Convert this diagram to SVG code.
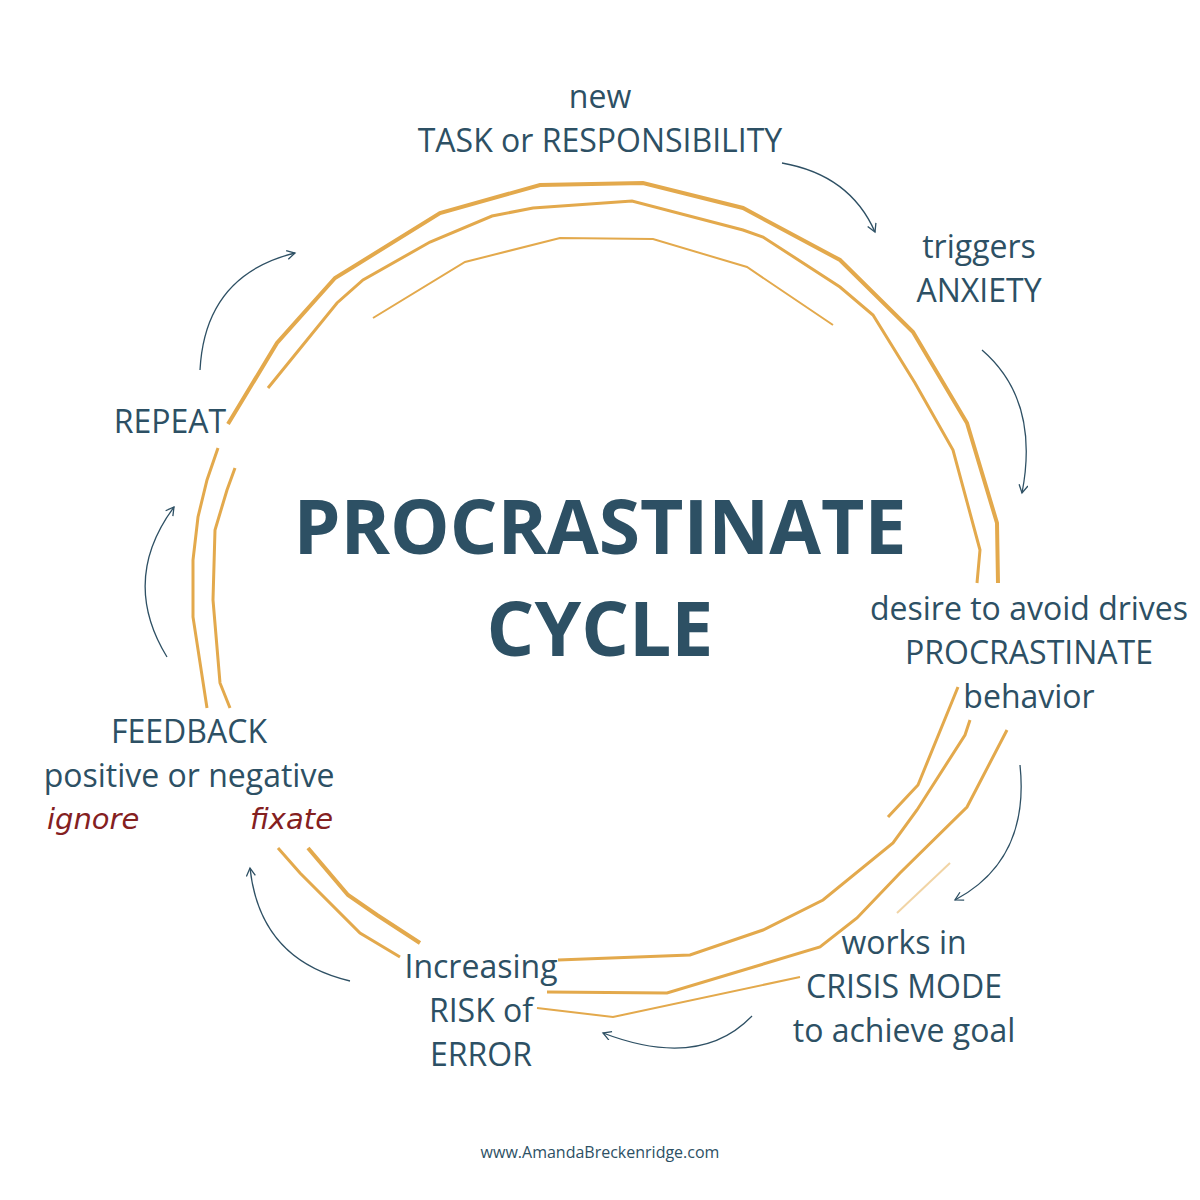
<svg xmlns="http://www.w3.org/2000/svg" width="1200" height="1200" viewBox="0 0 1200 1200">
<style>
.ring{fill:none;stroke:#E3A94C;stroke-linejoin:miter;stroke-linecap:butt}
.w4{stroke-width:4}
.w3{stroke-width:3}
.w2{stroke-width:2}
.arr{fill:none;stroke:#2E5064;stroke-width:1.3;marker-end:url(#ah)}
.lbl{font-family:"Open Sans","Liberation Sans",sans-serif;font-size:32px;fill:#2D5064;text-anchor:middle}
.ttl{font-family:"Open Sans","Liberation Sans",sans-serif;font-size:75px;font-weight:bold;fill:#2D5064;text-anchor:middle}
.hand{font-family:"DejaVu Sans","Liberation Sans",sans-serif;font-style:italic;font-size:29px;fill:#84201F}
.foot{font-family:"Open Sans","Liberation Sans",sans-serif;font-size:16px;fill:#2D5064;text-anchor:middle}
</style>
<defs>
<marker id="ah" markerUnits="userSpaceOnUse" markerWidth="14" markerHeight="14" refX="9" refY="5" orient="auto">
<path d="M1,0.5 L9,5 L1,9.5" fill="none" stroke="#2E5064" stroke-width="1.3"/>
</marker>
</defs>
<rect width="1200" height="1200" fill="#FFFFFF"/>
<g id="ring">
<polyline class="ring w4" points="228,424 277,343 335,278 353,267 440,213 540,185 643,183 743,208 840,260 913,332 967,423 997,523 998,583"/>
<polyline class="ring w3" points="268,388 337,303 363,280 430,242 492,216 533,208 632,201 743,230 763,237 840,287 873,315 915,383 953,450 980,550 977,583"/>
<polyline class="ring w2" points="373,318 465,262 560,238 653,239 747,267 833,325"/>
<polyline class="ring w3" points="218,448 207,480 198,517 193,560 193,617 207,708"/>
<polyline class="ring w3" points="235,468 227,490 215,530 213,600 220,683 230,708"/>
<polyline class="ring w3" points="278,848 300,873 360,933 400,957"/>
<polyline class="ring w4" points="308,848 348,895 377,915 420,943"/>
<polyline class="ring w3" points="558,960 690,955 763,930 823,900 893,843 917,810 965,735 970,720"/>
<polyline class="ring w3" points="547,992 667,993 820,947 857,918 900,873 967,807 1007,730"/>
<polyline class="ring w3" points="958,687 918,785 888,817"/>
<polyline class="ring w2" points="537,1008 613,1017 800,977"/>
<polyline class="ring w2" points="897,913 950,863" stroke-opacity="0.5"/>
</g>
<g id="connectors">
<path class="arr" d="M782,163 Q850,175 875,232"/>
<path class="arr" d="M982,350 Q1040,400 1022,493"/>
<path class="arr" d="M1020,765 Q1030,860 955,900"/>
<path class="arr" d="M752,1016 Q700,1070 603,1033"/>
<path class="arr" d="M350,981 Q260,960 250,868"/>
<path class="arr" d="M167,657 Q120,580 174,507"/>
<path class="arr" d="M200,370 Q205,275 295,253"/>
</g>
<g id="title">
<text class="ttl" x="600" y="554">PROCRASTINATE</text>
<text class="ttl" x="600" y="656">CYCLE</text>
</g>
<g id="node-task">
<text class="lbl" x="600" y="108">new</text>
<text class="lbl" x="600" y="152">TASK or RESPONSIBILITY</text>
</g>
<g id="node-anxiety">
<text class="lbl" x="979" y="258">triggers</text>
<text class="lbl" x="979" y="302">ANXIETY</text>
</g>
<g id="node-avoid">
<text class="lbl" x="1029" y="620">desire to avoid drives</text>
<text class="lbl" x="1029" y="664">PROCRASTINATE</text>
<text class="lbl" x="1029" y="708">behavior</text>
</g>
<g id="node-crisis">
<text class="lbl" x="904" y="954">works in</text>
<text class="lbl" x="904" y="998">CRISIS MODE</text>
<text class="lbl" x="904" y="1042">to achieve goal</text>
</g>
<g id="node-risk">
<text class="lbl" x="481" y="978">Increasing</text>
<text class="lbl" x="481" y="1022">RISK of</text>
<text class="lbl" x="481" y="1066">ERROR</text>
</g>
<g id="node-feedback">
<text class="lbl" x="189" y="743">FEEDBACK</text>
<text class="lbl" x="189" y="787">positive or negative</text>
<text class="hand" x="47" y="829">ignore</text>
<text class="hand" x="333" y="829" text-anchor="end">fixate</text>
</g>
<g id="node-repeat">
<text class="lbl" x="170" y="433">REPEAT</text>
</g>
<text class="foot" x="600" y="1158">www.AmandaBreckenridge.com</text>
</svg>
